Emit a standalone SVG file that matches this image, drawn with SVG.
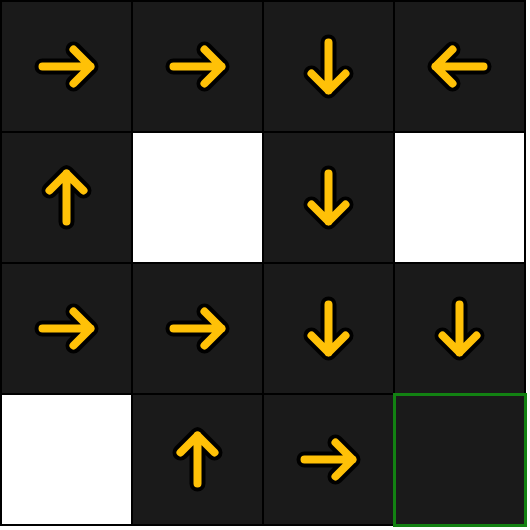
<svg xmlns="http://www.w3.org/2000/svg" xmlns:xlink="http://www.w3.org/1999/xlink" width="530" height="530" viewBox="0 0 530 530">
<style>
.cell{fill:#1a1a1a;stroke:#000;stroke-width:2}
.empty{fill:#ffffff;stroke:#000;stroke-width:2}
.goal{fill:#1a1a1a;stroke:#128212;stroke-width:3}
.ol{fill:none;stroke:#000;stroke-width:16;stroke-linecap:round;stroke-linejoin:round}
.ar{fill:none;stroke:#ffc107;stroke-width:8;stroke-linecap:round;stroke-linejoin:round}
</style>
<defs>
<g id="arrow">
<path class="ol" d="M-24,0 H24 M7,-17 L24,0 L7,17"/>
<path class="ar" d="M-24,0 H24 M7,-17 L24,0 L7,17"/>
</g>
</defs>
<rect width="530" height="530" fill="#ffffff"/>
<g id="r0c0"><rect class="cell" x="1" y="1" width="131" height="131"/><use xlink:href="#arrow" transform="translate(66.5,66.5)"/></g>
<g id="r0c1"><rect class="cell" x="132" y="1" width="131" height="131"/><use xlink:href="#arrow" transform="translate(197.5,66.5)"/></g>
<g id="r0c2"><rect class="cell" x="263" y="1" width="131" height="131"/><use xlink:href="#arrow" transform="translate(328.5,66.5) rotate(90)"/></g>
<g id="r0c3"><rect class="cell" x="394" y="1" width="131" height="131"/><use xlink:href="#arrow" transform="translate(459.5,66.5) rotate(180)"/></g>
<g id="r1c0"><rect class="cell" x="1" y="132" width="131" height="131"/><use xlink:href="#arrow" transform="translate(66.5,197.5) rotate(-90)"/></g>
<g id="r1c1"><rect class="empty" x="132" y="132" width="131" height="131"/></g>
<g id="r1c2"><rect class="cell" x="263" y="132" width="131" height="131"/><use xlink:href="#arrow" transform="translate(328.5,197.5) rotate(90)"/></g>
<g id="r1c3"><rect class="empty" x="394" y="132" width="131" height="131"/></g>
<g id="r2c0"><rect class="cell" x="1" y="263" width="131" height="131"/><use xlink:href="#arrow" transform="translate(66.5,328.5)"/></g>
<g id="r2c1"><rect class="cell" x="132" y="263" width="131" height="131"/><use xlink:href="#arrow" transform="translate(197.5,328.5)"/></g>
<g id="r2c2"><rect class="cell" x="263" y="263" width="131" height="131"/><use xlink:href="#arrow" transform="translate(328.5,328.5) rotate(90)"/></g>
<g id="r2c3"><rect class="cell" x="394" y="263" width="131" height="131"/><use xlink:href="#arrow" transform="translate(459.5,328.5) rotate(90)"/></g>
<g id="r3c0"><rect class="empty" x="1" y="394" width="131" height="131"/></g>
<g id="r3c1"><rect class="cell" x="132" y="394" width="131" height="131"/><use xlink:href="#arrow" transform="translate(197.5,459.5) rotate(-90)"/></g>
<g id="r3c2"><rect class="cell" x="263" y="394" width="131" height="131"/><use xlink:href="#arrow" transform="translate(328.5,459.5)"/></g>
<g id="r3c3"><rect class="goal" x="394.5" y="394.5" width="131" height="131"/></g>
<g id="connectors"/>
</svg>
